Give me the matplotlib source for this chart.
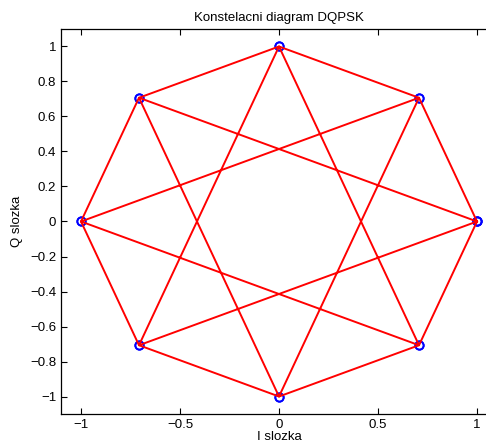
import matplotlib
matplotlib.use("Agg")
import matplotlib.pyplot as plt

# symbol sequence (I, Q) of DQPSK transitions
I_vals = [1, 0.7071, 0, -0.7071, -1, -0.7071, 0, 0.7071, 1,
          -0.7071, 0, 0.7071, -1, 0.7071, 0, -0.7071, 1]
Q_vals = [0, 0.7071, 1, 0.7071, 0, -0.7071, -1, -0.7071, 0,
          0.7071, -1, 0.7071, 0, -0.7071, 1, -0.7071, 0]

x_ticks = [-1, -0.5, 0, 0.5, 1]
x_labels = ["\u22121", "\u22120.5", "0", "0.5", "1"]
y_ticks = [-1, -0.8, -0.6, -0.4, -0.2, 0, 0.2, 0.4, 0.6, 0.8, 1]
y_labels = ["\u22121", "\u22120.8", "\u22120.6", "\u22120.4", "\u22120.2", "0",
            "0.2", "0.4", "0.6", "0.8", "1"]

plt.rcParams['font.family'] = ['Liberation Sans', 'DejaVu Sans']
fig = plt.figure(figsize=(4.86, 4.48), dpi=100)
ax = fig.add_axes([61.2 / 486, 34 / 448, 435.6 / 486, 385 / 448])

ax.plot(I_vals, Q_vals, linestyle='none', marker='o', markersize=6,
        markerfacecolor='none', markeredgecolor='blue', markeredgewidth=1.3, zorder=2)
ax.plot(I_vals, Q_vals, color='red', linewidth=1.4, zorder=3)

ax.set_xlim(-1.1, 1.1)
ax.set_ylim(-1.1, 1.1)
ax.set_xticks(x_ticks)
ax.set_xticklabels(x_labels)
ax.set_yticks(y_ticks)
ax.set_yticklabels(y_labels)
ax.tick_params(direction='in', top=True, right=True, labelsize=9.5, length=4, width=0.8)
for s in ax.spines.values():
    s.set_linewidth(0.9)
ax.set_title("Konstelacni diagram DQPSK", fontsize=9.5, pad=6)
ax.set_xlabel("I slozka", fontsize=9.5, labelpad=0)
ax.set_ylabel("Q slozka", fontsize=9.5, labelpad=5)

fig.savefig("out.png", dpi=100)
